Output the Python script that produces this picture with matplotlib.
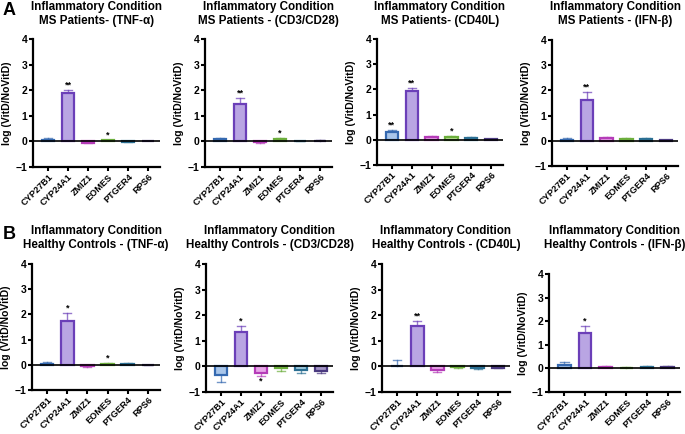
import matplotlib
matplotlib.use("Agg")
import matplotlib.pyplot as plt
import numpy as np

plt.rcParams['font.family'] = ['Liberation Sans', 'DejaVu Sans']
plt.rcParams['font.weight'] = 'bold'

W, H = 685, 434

genes = ["CYP27B1", "CYP24A1", "ZMIZ1", "EOMES", "PTGER4", "RPS6"]

# fill / edge colours per gene
fills = ["#a9c6ea", "#b9a5e3", "#e8a6e8", "#bde19c", "#a3cde0", "#a496c6"]
edges = ["#3569b0", "#6b3fb8", "#b53cb8", "#6cae3c", "#2b6f93", "#4b3a80"]

titles = [
    "Inflammatory Condition\nMS Patients- (TNF-α)",
    "Inflammatory Condition\nMS Patients - (CD3/CD28)",
    "Inflammatory Condition\nMS Patients- (CD40L)",
    "Inflammatory Condition\nMS Patients - (IFN-β)",
    "Inflammatory Condition\nHealthy Controls - (TNF-α)",
    "Inflammatory Condition\nHealthy Controls - (CD3/CD28)",
    "Inflammatory Condition\nHealthy Controls - (CD40L)",
    "Inflammatory Condition\nHealthy Controls - (IFN-β)",
]

# mean log(VitD/NoVitD) per panel
means = [
    [0.05, 1.90, -0.05, 0.04, -0.02, 0.00],
    [0.10, 1.45, -0.04, 0.10, 0.01, 0.02],
    [0.30, 1.95, 0.10, 0.10, 0.06, 0.03],
    [0.03, 1.60, 0.10, 0.06, 0.06, 0.03],
    [0.05, 1.75, -0.05, 0.05, 0.03, 0.00],
    [-0.35, 1.35, -0.25, -0.05, -0.15, -0.18],
    [0.00, 1.58, -0.15, -0.04, -0.06, -0.05],
    [0.15, 1.50, 0.04, 0.03, 0.04, 0.04],
]
# error (SEM) per panel
errs = [
    [0.10, 0.10, 0.02, 0.02, 0.02, 0.00],
    [0.05, 0.25, 0.01, 0.02, 0.01, 0.02],
    [0.08, 0.12, 0.07, 0.04, 0.06, 0.01],
    [0.09, 0.35, 0.05, 0.06, 0.06, 0.02],
    [0.07, 0.30, 0.03, 0.03, 0.05, 0.01],
    [0.27, 0.22, 0.13, 0.13, 0.12, 0.09],
    [0.25, 0.20, 0.07, 0.04, 0.06, 0.03],
    [0.13, 0.30, 0.08, 0.02, 0.06, 0.06],
]
# significance marks per panel
stars = [
    ["", "**", "", "*", "", ""],
    ["", "**", "", "*", "", ""],
    ["**", "**", "", "*", "", ""],
    ["", "**", "", "", "", ""],
    ["", "*", "", "*", "", ""],
    ["", "*", "*", "", "", ""],
    ["", "**", "", "", "", ""],
    ["", "*", "", "", "", ""],
]

# axes boxes in pixels: left, right, top (y=4), bottom (y=-1)
boxes = [
    (33, 160, 39, 167), (205, 332, 39, 167), (377, 503, 39, 165), (552, 678, 40, 166),
    (32, 160, 264, 390), (206, 333, 264, 392), (382, 510, 264, 392), (549, 680, 274, 392),
]
title_y = [1, 1, 1, 1, 225, 225, 225, 225]

fig = plt.figure(figsize=(W / 100, H / 100), dpi=100)

x = np.arange(len(genes))
for i in range(8):
    l, r, t, b = boxes[i]
    ax = fig.add_axes([l / W, 1 - b / H, (r - l) / W, (b - t) / H])
    m = np.array(means[i])
    e = np.array(errs[i])
    ax.bar(x, m, width=0.62, color=fills, edgecolor=edges, linewidth=1.6, zorder=2)
    for j in range(len(genes)):
        sign = 1 if m[j] >= 0 else -1
        top = m[j] + sign * e[j]
        if e[j] > 0:
            ax.plot([x[j], x[j]], [m[j], top], color=edges[j], lw=1.0, alpha=0.7, zorder=1)
            ax.plot([x[j] - 0.2, x[j] + 0.2], [top, top], color=edges[j], lw=1.0, alpha=0.7, zorder=1)
        if stars[i][j]:
            if sign > 0:
                ax.text(x[j], top + 0.02, stars[i][j], ha='center', va='bottom', fontsize=6.5)
            else:
                ax.text(x[j], top - 0.03, stars[i][j], ha='center', va='top', fontsize=6.5)
    ax.axhline(0, color='black', lw=1.2, zorder=3)
    ax.set_ylim(-1, 4)
    ax.set_xlim(-0.75, 5.6)
    ax.set_yticks([-1, 0, 1, 2, 3, 4])
    ax.set_xticks(x)
    ax.set_xticklabels(genes, rotation=45, ha='right', rotation_mode='anchor', fontsize=6.6, fontweight='bold')
    ax.tick_params(axis='y', labelsize=7.5, width=1.5, length=3, pad=1)
    ax.tick_params(axis='x', width=1.5, length=3, pad=1)
    for lab in ax.get_yticklabels():
        lab.set_fontweight('bold')
    ax.spines['top'].set_visible(False)
    ax.spines['right'].set_visible(False)
    ax.spines['left'].set_linewidth(1.6)
    ax.spines['bottom'].set_linewidth(1.6)
    ax.set_ylabel("log (VitD/NoVitD)", fontsize=7.5, fontweight='bold', labelpad=3)
    fig.text((l + r) / 2 / W, 1 - title_y[i] / H, titles[i], ha='center', va='top',
             fontsize=8.4, fontweight='bold', linespacing=1.2)

fig.text(3 / W, 1 - 2 / H, "A", fontsize=13, fontweight='bold', va='top')
fig.text(3 / W, 1 - 226 / H, "B", fontsize=13, fontweight='bold', va='top')

fig.savefig("out.png", dpi=100)
